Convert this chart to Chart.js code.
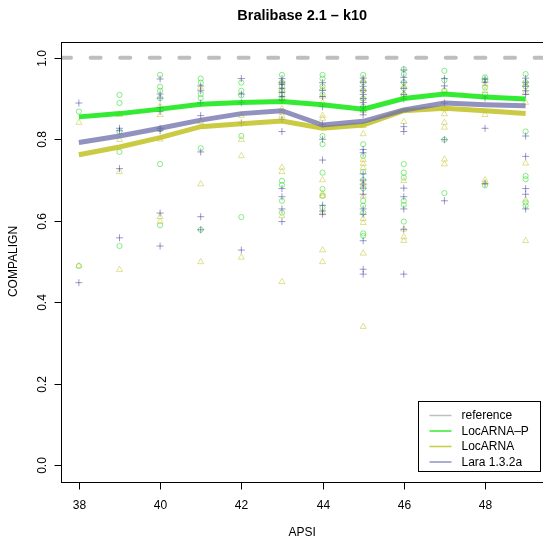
<!DOCTYPE html>
<html lang="en">
<head>
    <meta charset="UTF-8">
    <title>Bralibase 2.1 - k10</title>
    <style>
        body {
            margin: 0;
            padding: 0;
            background: #fff;
            overflow: hidden;
        }

        .chart-box {
            width: 560px;
            height: 537px;
        }
    </style>
</head>
<body>
    <div class="chart-box">
        <canvas id="apsiChart" width="560" height="537"></canvas>
    </div>

    <script src="https://cdn.jsdelivr.net/npm/chart.js"></script>
    <script>
        // APSI columns (x) and tick labels
        const apsi = [38, 39, 40, 41, 42, 43, 44, 45, 46, 47, 48, 49];
        const xTicks = [38, 40, 42, 44, 46, 48];
        const yTicks = [0, 0.2, 0.4, 0.6, 0.8, 1.0];
        const referenceValue = 1.0;

        // summary lines
        const locarnaPLine = [0.855, 0.863, 0.874, 0.886, 0.890, 0.893, 0.885, 0.874, 0.900, 0.911, 0.904, 0.899];
        const locarnaLine = [0.762, 0.781, 0.804, 0.831, 0.838, 0.845, 0.827, 0.835, 0.870, 0.876, 0.870, 0.863];
        const laraLine = [0.792, 0.808, 0.827, 0.847, 0.863, 0.870, 0.835, 0.844, 0.872, 0.889, 0.885, 0.882];

        // single alignments, one list per APSI column
        const locarnaPPoints = [
            [0.868, 0.489],
            [0.909, 0.889, 0.819, 0.769, 0.538],
            [0.958, 0.929, 0.919, 0.901, 0.825, 0.739, 0.589],
            [0.949, 0.939, 0.911, 0.901, 0.778, 0.578],
            [0.939, 0.919, 0.908, 0.808, 0.609],
            [0.958, 0.940, 0.930, 0.920, 0.910, 0.900, 0.698, 0.688, 0.649, 0.620],
            [0.958, 0.949, 0.930, 0.910, 0.808, 0.788, 0.718, 0.678, 0.661, 0.632],
            [0.958, 0.940, 0.920, 0.900, 0.880, 0.788, 0.759, 0.720, 0.700, 0.680, 0.649, 0.637, 0.620, 0.569, 0.563],
            [0.972, 0.960, 0.940, 0.925, 0.910, 0.739, 0.718, 0.706, 0.649, 0.639, 0.598],
            [0.968, 0.945, 0.919, 0.799, 0.668],
            [0.952, 0.945, 0.927, 0.910, 0.687],
            [0.960, 0.940, 0.930, 0.819, 0.710, 0.702, 0.645, 0.637]
        ];
        const locarnaPoints = [
            [0.841, 0.489],
            [0.860, 0.799, 0.720, 0.480],
            [0.882, 0.860, 0.800, 0.610, 0.598],
            [0.927, 0.843, 0.690, 0.499],
            [0.858, 0.799, 0.759, 0.510],
            [0.940, 0.920, 0.900, 0.875, 0.866, 0.858, 0.731, 0.720, 0.612, 0.450],
            [0.925, 0.905, 0.890, 0.858, 0.851, 0.700, 0.667, 0.661, 0.619, 0.528, 0.499],
            [0.945, 0.920, 0.900, 0.870, 0.833, 0.813, 0.750, 0.740, 0.730, 0.690, 0.660, 0.605, 0.595, 0.520, 0.340],
            [0.930, 0.910, 0.843, 0.698, 0.579, 0.560, 0.551],
            [0.920, 0.874, 0.862, 0.841, 0.829, 0.751, 0.739],
            [0.935, 0.919, 0.860, 0.700, 0.693],
            [0.935, 0.915, 0.890, 0.741, 0.651, 0.551]
        ];
        const laraPoints = [
            [0.889, 0.448],
            [0.827, 0.821, 0.728, 0.558],
            [0.948, 0.911, 0.901, 0.878, 0.868, 0.827, 0.821, 0.619, 0.538],
            [0.931, 0.919, 0.889, 0.858, 0.769, 0.610, 0.578],
            [0.949, 0.911, 0.890, 0.840, 0.528],
            [0.949, 0.940, 0.935, 0.925, 0.915, 0.905, 0.895, 0.849, 0.819, 0.679, 0.659, 0.629, 0.598],
            [0.939, 0.920, 0.905, 0.880, 0.837, 0.800, 0.749, 0.638, 0.624, 0.616],
            [0.950, 0.940, 0.930, 0.920, 0.910, 0.900, 0.890, 0.880, 0.870, 0.860, 0.775, 0.767, 0.715, 0.700, 0.690, 0.680, 0.665, 0.629, 0.616, 0.551, 0.481, 0.469],
            [0.970, 0.952, 0.940, 0.925, 0.910, 0.899, 0.831, 0.819, 0.680, 0.659, 0.629, 0.579, 0.469],
            [0.949, 0.931, 0.889, 0.799, 0.649],
            [0.948, 0.940, 0.901, 0.827, 0.691],
            [0.950, 0.940, 0.930, 0.919, 0.910, 0.808, 0.758, 0.679, 0.665, 0.629]
        ];

        const xMin = 37.56, xMax = 49.44;
        const yMin = -0.04, yMax = 1.04;
        const font = '"Liberation Sans", Arial, Helvetica, sans-serif';

        const colors = {
            reference: '#bebebe',
            locarnaP: 'rgba(0, 230, 0, 0.8)',
            locarna: 'rgba(190, 190, 20, 0.8)',
            lara: 'rgba(110, 110, 170, 0.75)'
        };

        function toPoints(cols) {
            return cols.flatMap((vals, i) => vals.map(v => ({ x: apsi[i], y: v })));
        }

        function toLine(vals) {
            return vals.map((v, i) => ({ x: apsi[i], y: v }));
        }

        // R style box, axes, titles and legend
        const rStyle = {
            id: 'rStyle',
            afterDraw(chart) {
                const ctx = chart.ctx;
                const area = chart.chartArea;
                const xs = chart.scales.x;
                const ys = chart.scales.y;
                ctx.save();
                ctx.strokeStyle = '#000';
                ctx.fillStyle = '#000';
                ctx.lineWidth = 1;

                // box
                ctx.strokeRect(Math.round(area.left) + 0.5, Math.round(area.top) + 0.5,
                    area.right - area.left, Math.round(area.bottom) - Math.round(area.top));

                const bottom = Math.round(area.bottom) + 0.5;
                const left = Math.round(area.left) + 0.5;

                // x axis
                ctx.font = '12px ' + font;
                ctx.textAlign = 'center';
                ctx.textBaseline = 'alphabetic';
                xTicks.forEach(t => {
                    const px = Math.round(xs.getPixelForValue(t)) + 0.5;
                    ctx.beginPath();
                    ctx.moveTo(px, bottom);
                    ctx.lineTo(px, bottom + 7);
                    ctx.stroke();
                    ctx.fillText(String(t), px, bottom + 26);
                });

                // y axis
                yTicks.forEach(t => {
                    const py = Math.round(ys.getPixelForValue(t)) + 0.5;
                    ctx.beginPath();
                    ctx.moveTo(left, py);
                    ctx.lineTo(left - 7, py);
                    ctx.stroke();
                    ctx.save();
                    ctx.translate(left - 16, py);
                    ctx.rotate(-Math.PI / 2);
                    ctx.fillText(t.toFixed(1), 0, 0);
                    ctx.restore();
                });

                // titles
                const midX = (area.left + 543.5) / 2;
                ctx.fillText('APSI', midX, bottom + 53);
                ctx.save();
                ctx.translate(left - 45, (area.top + area.bottom) / 2);
                ctx.rotate(-Math.PI / 2);
                ctx.fillText('COMPALIGN', 0, 0);
                ctx.restore();

                ctx.font = 'bold 14.5px ' + font;
                ctx.fillText('Bralibase 2.1 \u2013 k10', midX, 19.5);

                // legend
                const lx = 418.5, ly = 401.5, lw = 122, lh = 70;
                ctx.fillStyle = '#fff';
                ctx.fillRect(lx, ly, lw, lh);
                ctx.strokeStyle = '#000';
                ctx.strokeRect(lx, ly, lw, lh);
                const entries = [
                    ['reference', colors.reference],
                    ['LocARNA\u2013P', colors.locarnaP],
                    ['LocARNA', colors.locarna],
                    ['Lara 1.3.2a', colors.lara]
                ];
                ctx.font = '12px ' + font;
                ctx.textAlign = 'left';
                ctx.textBaseline = 'middle';
                entries.forEach((e, i) => {
                    const ey = ly + 14 + i * 15.5;
                    ctx.strokeStyle = e[1];
                    ctx.lineWidth = 1.5;
                    ctx.beginPath();
                    ctx.moveTo(lx + 11, ey);
                    ctx.lineTo(lx + 33, ey);
                    ctx.stroke();
                    ctx.fillStyle = '#000';
                    ctx.fillText(e[0], lx + 43, ey + 0.5);
                });

                ctx.restore();
            }
        };

        new Chart(document.getElementById('apsiChart'), {
            type: 'scatter',
            data: {
                datasets: [
                    {
                        label: 'LocARNA-P',
                        type: 'line',
                        data: toLine(locarnaPLine),
                        borderColor: colors.locarnaP,
                        borderWidth: 5,
                        pointRadius: 0,
                        fill: false,
                        tension: 0,
                        order: 1
                    },
                    {
                        label: 'Lara 1.3.2a',
                        type: 'line',
                        data: toLine(laraLine),
                        borderColor: colors.lara,
                        borderWidth: 5,
                        pointRadius: 0,
                        fill: false,
                        tension: 0,
                        order: 2
                    },
                    {
                        label: 'LocARNA',
                        type: 'line',
                        data: toLine(locarnaLine),
                        borderColor: colors.locarna,
                        borderWidth: 5,
                        pointRadius: 0,
                        fill: false,
                        tension: 0,
                        order: 3
                    },
                    {
                        label: 'Lara 1.3.2a points',
                        data: toPoints(laraPoints),
                        pointStyle: 'cross',
                        pointRadius: 3.5,
                        borderColor: 'rgba(30, 30, 140, 0.45)',
                        borderWidth: 1,
                        order: 4
                    },
                    {
                        label: 'LocARNA points',
                        data: toPoints(locarnaPoints),
                        pointStyle: 'triangle',
                        pointRadius: 3.5,
                        backgroundColor: 'rgba(0, 0, 0, 0)',
                        borderColor: 'rgba(200, 200, 60, 0.55)',
                        borderWidth: 1,
                        order: 5
                    },
                    {
                        label: 'LocARNA-P points',
                        data: toPoints(locarnaPPoints),
                        pointStyle: 'circle',
                        pointRadius: 2.6,
                        backgroundColor: 'rgba(0, 0, 0, 0)',
                        borderColor: 'rgba(40, 220, 40, 0.55)',
                        borderWidth: 1,
                        order: 6
                    },
                    {
                        label: 'reference',
                        type: 'line',
                        data: [{ x: xMin, y: referenceValue }, { x: xMax + 1, y: referenceValue }],
                        borderColor: colors.reference,
                        borderWidth: 4,
                        borderDash: [10, 19.6],
                        borderCapStyle: 'round',
                        pointRadius: 0,
                        fill: false,
                        order: 7
                    }
                ]
            },
            options: {
                responsive: false,
                animation: false,
                events: [],
                layout: {
                    padding: { left: 61, right: 16.5, top: 41.5, bottom: 55.5 }
                },
                scales: {
                    x: { type: 'linear', min: xMin, max: xMin + (xMax - xMin) * (560 - 77.5) / (543.5 - 61), display: false },
                    y: { type: 'linear', min: yMin, max: yMax, display: false }
                },
                plugins: {
                    legend: { display: false },
                    tooltip: { enabled: false },
                    title: { display: false }
                }
            },
            plugins: [rStyle]
        });
    </script>
</body>
</html>
